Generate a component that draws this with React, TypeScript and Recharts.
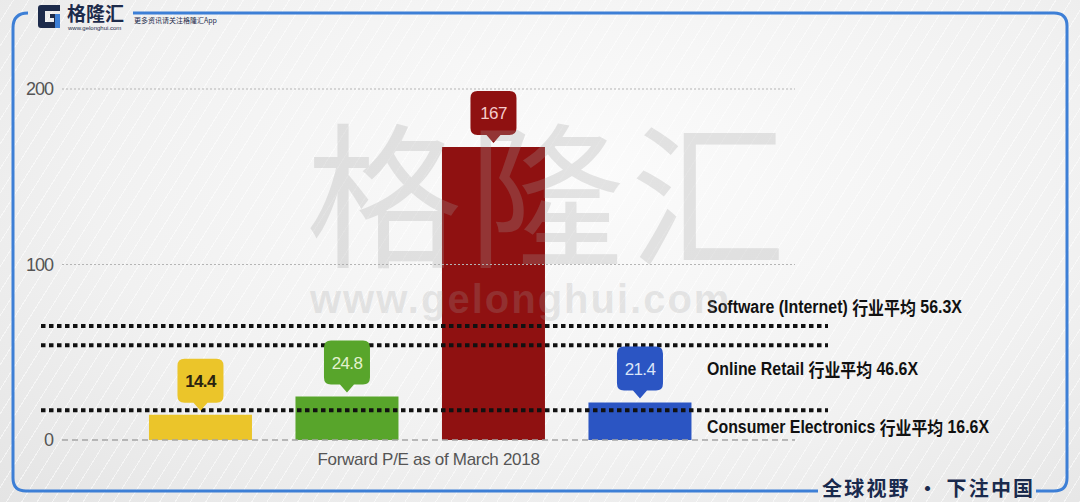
import { BarChart, Bar, XAxis, YAxis, Cell, LabelList, ReferenceLine } from "recharts";

const categories = ["Company A", "Company B", "Company C", "Company D"];
const peValues = [14.4, 24.8, 167, 21.4];
const yTicks = [0, 100, 200];

const industryNames = ["Software (Internet)", "Online Retail", "Consumer Electronics"];
const industryAvgText = ["56.3X", "46.6X", "16.6X"];
// where the dotted average lines sit on the picture's scale
const industryLineLevels = [65, 54, 17];

const barColors = ["#ebc52a", "#58a52b", "#8f1111", "#2b55c3"];
const bubbleText = ["#2a2310", "#e3f2cf", "#f5cccc", "#dbe5f8"];
const labelOffsets = [-19, 24, 17];
const labelWidths = [255, 211, 282];

const sans = "'Liberation Sans', Arial, 'Noto Sans CJK SC', sans-serif";
const cjk = "'Noto Sans CJK SC', sans-serif";

const rows = categories.map((name, i) => ({ name, pe: peValues[i] }));

function Bubble(props: any) {
  const { x, y, width, value } = props;
  const i = peValues.indexOf(value);
  const cx = x + width / 2;
  const tip = y - 4;
  const bottom = tip - 8;
  const top = bottom - 44;
  const hw = 23;
  const r = 7;
  const d = [
    `M ${cx - hw + r} ${top}`,
    `L ${cx + hw - r} ${top}`,
    `Q ${cx + hw} ${top} ${cx + hw} ${top + r}`,
    `L ${cx + hw} ${bottom - r}`,
    `Q ${cx + hw} ${bottom} ${cx + hw - r} ${bottom}`,
    `L ${cx + 7} ${bottom}`,
    `L ${cx} ${tip}`,
    `L ${cx - 7} ${bottom}`,
    `L ${cx - hw + r} ${bottom}`,
    `Q ${cx - hw} ${bottom} ${cx - hw} ${bottom - r}`,
    `L ${cx - hw} ${top + r}`,
    `Q ${cx - hw} ${top} ${cx - hw + r} ${top}`,
    "Z",
  ].join(" ");
  return (
    <g>
      <path d={d} fill={barColors[i]} />
      <text
        x={cx}
        y={top + 23}
        textAnchor="middle"
        dominantBaseline="central"
        fill={bubbleText[i]}
        fontSize={17}
        fontWeight={i === 0 ? 700 : 400}
        fontFamily={sans}
        letterSpacing={-0.6}
      >
        {value}
      </text>
    </g>
  );
}

function avgLine(i: number) {
  return (p: any) => (
    <g>
      <line
        x1={p.x1 - 21}
        x2={p.x2 + 33}
        y1={p.y1}
        y2={p.y2}
        stroke="#111"
        strokeWidth={4}
        strokeDasharray="4.5 3.5"
      />
      <text
        x={p.x2 - 88}
        y={p.y1 + labelOffsets[i]}
        dominantBaseline="central"
        fill="#111"
        fontSize={18}
        fontWeight={700}
        fontFamily={sans}
        textLength={labelWidths[i]}
        lengthAdjust="spacingAndGlyphs"
      >
        {industryNames[i]} <tspan fontFamily={cjk}>行业平均</tspan> {industryAvgText[i]}
      </text>
    </g>
  );
}

function Frame() {
  return (
    <svg width={1080} height={502} style={{ position: "absolute", left: 0, top: 0 }}>
      <path
        d="M 28 13 Q 13 13 13 28 L 13 478 Q 13 491 26 491 L 818 491"
        fill="none"
        stroke="#3d7fd6"
        strokeWidth={3}
      />
      <path
        d="M 1036 491 L 1054 491 Q 1067 491 1067 478 L 1067 26 Q 1067 13 1054 13 L 133 13"
        fill="none"
        stroke="#3d7fd6"
        strokeWidth={3}
      />
      <g transform="translate(38,5)">
        <path
          d="M 0 3 Q 0 0 3 0 L 22 0 L 22 6 L 7 6 L 7 17 L 16 17 L 16 13 L 12 13 L 12 9 L 22 9 L 22 23 L 3 23 Q 0 23 0 20 Z"
          fill="#1d2b4b"
        />
        <rect x={17} y={9} width={5} height={14} fill="#3d7fd6" />
      </g>
    </svg>
  );
}

export default function App() {
  return (
    <div
      style={{
        position: "absolute",
        left: 0,
        top: 0,
        width: 1080,
        height: 502,
        overflow: "hidden",
        background:
          "repeating-linear-gradient(-58deg, rgba(255,255,255,0.55) 0px, rgba(255,255,255,0.55) 1px, transparent 1px, transparent 13px), radial-gradient(ellipse at 55% 35%, #fbfbfb 0%, #f1f1f1 60%, #e4e4e4 100%)",
      }}
    >
      <Frame />
      <div
        style={{
          position: "absolute",
          left: 67,
          top: 2,
          fontFamily: cjk,
          fontWeight: 700,
          fontSize: 19,
          color: "#1d2b4b",
          lineHeight: "22px",
        }}
      >
        格隆汇
      </div>
      <div
        style={{
          position: "absolute",
          left: 68,
          top: 25,
          fontFamily: sans,
          fontSize: 6,
          color: "#1d2b4b",
          lineHeight: "7px",
        }}
      >
        www.gelonghui.com
      </div>
      <div
        style={{
          position: "absolute",
          left: 134,
          top: 16,
          fontFamily: cjk,
          fontSize: 7,
          color: "#1d2b4b",
          lineHeight: "9px",
        }}
      >
        更多资讯请关注格隆汇App
      </div>
      <div
        style={{
          position: "absolute",
          left: 822,
          top: 474,
          fontFamily: cjk,
          fontWeight: 700,
          fontSize: 20,
          letterSpacing: 2.2,
          color: "#1a2a4d",
          lineHeight: "28px",
        }}
      >
        全球视野 • 下注中国
      </div>
      <div style={{ position: "absolute", left: 0, top: 0 }}>
        <BarChart
          width={1080}
          height={502}
          data={rows}
          margin={{ top: 89, right: 285, bottom: 0, left: 12 }}
          barCategoryGap="15%"
        >
          <XAxis
            dataKey="name"
            tick={false}
            tickLine={false}
            axisLine={false}
            height={62}
            padding={{ left: 65, right: 82 }}
            label={{
              value: "Forward P/E as of March 2018",
              position: "insideTop",
              offset: 13,
              fill: "#555",
              fontSize: 17,
              fontFamily: sans,
              letterSpacing: -0.3,
            }}
          />
          <YAxis
            domain={[0, 200]}
            ticks={yTicks}
            width={50}
            axisLine={false}
            tickLine={false}
            tickMargin={3}
            tick={{ fill: "#555", fontSize: 18, fontFamily: sans, letterSpacing: -1 }}
          />
          <ReferenceLine y={200} stroke="#b5b5b5" strokeDasharray="2 2" />
          <ReferenceLine y={100} stroke="#b5b5b5" strokeDasharray="2 2" />
          <ReferenceLine y={0} stroke="#a5a5a5" strokeWidth={1.5} strokeDasharray="6 4" />
          <Bar dataKey="pe" isAnimationActive={false}>
            {rows.map((r, i) => (
              <Cell key={r.name} fill={barColors[i]} />
            ))}
            <LabelList dataKey="pe" content={Bubble} />
          </Bar>
          {industryLineLevels.map((lvl, i) => (
            <ReferenceLine key={industryNames[i]} y={lvl} ifOverflow="visible" shape={avgLine(i)} />
          ))}
        </BarChart>
      </div>
      <div
        style={{
          position: "absolute",
          left: 306,
          top: 92,
          fontFamily: cjk,
          fontWeight: 400,
          fontSize: 156,
          letterSpacing: 6,
          color: "rgba(160,160,160,0.26)",
          lineHeight: "190px",
          pointerEvents: "none",
        }}
      >
        格隆汇
      </div>
      <div
        style={{
          position: "absolute",
          left: 310,
          top: 276,
          fontFamily: sans,
          fontWeight: 700,
          fontSize: 40,
          letterSpacing: 2,
          color: "rgba(160,160,160,0.22)",
          lineHeight: "46px",
          pointerEvents: "none",
        }}
      >
        www.gelonghui.com
      </div>
    </div>
  );
}
